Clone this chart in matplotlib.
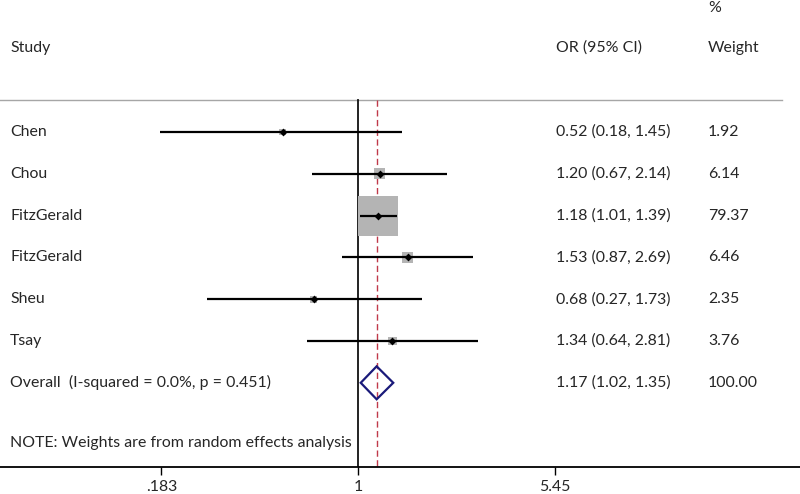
import matplotlib
matplotlib.use("Agg")
import matplotlib.pyplot as plt
import matplotlib.transforms as mtrans
import numpy as np
from matplotlib.patches import Polygon

plt.rcParams['font.family'] = ['Lato', 'DejaVu Sans']

studies = ["Chen", "Chou", "FitzGerald", "FitzGerald", "Sheu", "Tsay"]
or_est = [0.52, 1.20, 1.18, 1.53, 0.68, 1.34]
ci_low = [0.18, 0.67, 1.01, 0.87, 0.27, 0.64]
ci_high = [1.45, 2.14, 1.39, 2.69, 1.73, 2.81]
weights = [1.92, 6.14, 79.37, 6.46, 2.35, 3.76]
overall_label = "Overall  (I-squared = 0.0%, p = 0.451)"
overall = [1.17, 1.02, 1.35]
overall_weight = 100.00
xticks = [0.183, 1, 5.45]
xtick_labels = [".183", "1", "5.45"]
note = "NOTE: Weights are from random effects analysis"

W, H = 800, 494
fig = plt.figure(figsize=(W / 100, H / 100), dpi=100)
axis_px = 467
ax = fig.add_axes([0, (H - axis_px) / H, 1, axis_px / H])

row_px0, row_step = 132, 41.8
def px2row(p):
    return 1 + (p - row_px0) / row_step

ax.set_xscale('log')
ax.set_xlim(0.0455, 45)
ax.set_ylim(px2row(axis_px), px2row(0))

txt_color = '#262626'
fs = 11.4
n = len(studies)
rows = np.arange(1, n + 1)

sep_row = px2row(100)
bottom_row = px2row(axis_px)

tr = mtrans.blended_transform_factory(ax.transAxes, ax.transData)

# separator line
ax.plot([0, 782 / W], [sep_row, sep_row], transform=tr, color='#a6a6a6', lw=1.0, clip_on=False)
# null line and overall line
ax.plot([1, 1], [sep_row, bottom_row], color='#111111', lw=1.3)
ax.plot([overall[0]] * 2, [sep_row, bottom_row], color='#c0394a', lw=1.0, ls=(0, (4.5, 2.5)))

# boxes (area proportional to weight)
ax.scatter(or_est, rows, s=10.45 * np.array(weights), marker='s', color='#b4b4b4', linewidths=0, zorder=2)
# CI lines
ax.hlines(rows, ci_low, ci_high, color='black', lw=1.6, zorder=3)
# point estimates
ax.scatter(or_est, rows, s=16, marker='D', color='black', zorder=4, linewidths=0)

# overall diamond
orow = n + 1
h = 16.5 / row_step
diamond = Polygon([(overall[1], orow), (overall[0], orow - h), (overall[2], orow), (overall[0], orow + h)],
                  closed=True, fill=False, edgecolor='#1a1a7a', lw=1.6, zorder=4)
ax.add_patch(diamond)

# text columns
xl = 10 / W
xor = 556 / W
xw = 708 / W
for i, r in enumerate(rows):
    ax.text(xl, r, studies[i], transform=tr, va='center', ha='left', fontsize=fs, color=txt_color)
    ax.text(xor, r, f"{or_est[i]:.2f} ({ci_low[i]:.2f}, {ci_high[i]:.2f})", transform=tr,
            va='center', ha='left', fontsize=fs, color=txt_color)
    ax.text(xw, r, f"{weights[i]:.2f}", transform=tr, va='center', ha='left', fontsize=fs, color=txt_color)
ax.text(xl, orow, overall_label, transform=tr, va='center', ha='left', fontsize=fs, color=txt_color)
ax.text(xor, orow, f"{overall[0]:.2f} ({overall[1]:.2f}, {overall[2]:.2f})", transform=tr,
        va='center', ha='left', fontsize=fs, color=txt_color)
ax.text(xw, orow, f"{overall_weight:.2f}", transform=tr, va='center', ha='left', fontsize=fs, color=txt_color)

ax.text(xl, px2row(443), note, transform=tr, va='center', ha='left', fontsize=fs, color=txt_color)

# headers
ax.text(xl, px2row(48), "Study", transform=tr, va='center', ha='left', fontsize=fs, color=txt_color)
ax.text(xor, px2row(48), "OR (95% CI)", transform=tr, va='center', ha='left', fontsize=fs, color=txt_color)
ax.text(xw, px2row(48), "Weight", transform=tr, va='center', ha='left', fontsize=fs, color=txt_color)
ax.text(xw, px2row(8), "%", transform=tr, va='center', ha='left', fontsize=fs, color=txt_color)

# axes styling
for s in ['top', 'left', 'right']:
    ax.spines[s].set_visible(False)
ax.spines['bottom'].set_linewidth(1.3)
ax.set_yticks([])
ax.set_xticks(xticks)
ax.set_xticklabels(xtick_labels)
ax.xaxis.set_minor_locator(matplotlib.ticker.NullLocator())
ax.tick_params(axis='x', length=6, width=1.0, labelsize=fs, labelcolor=txt_color, pad=3)

fig.savefig("out.png", dpi=100)
